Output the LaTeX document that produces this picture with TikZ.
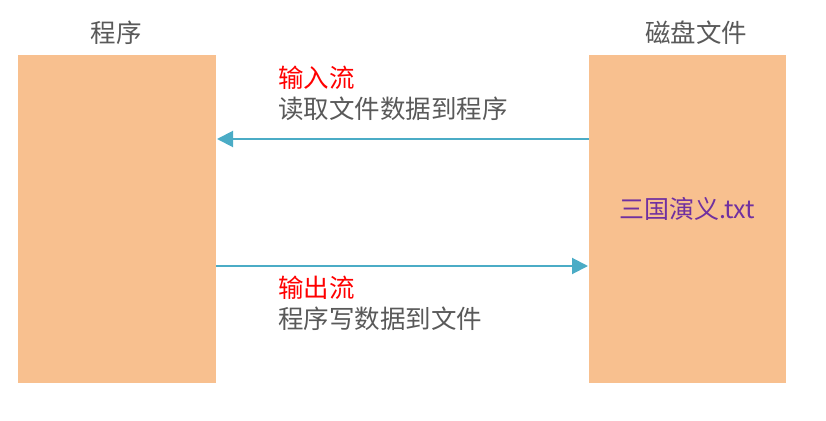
\documentclass[tikz,border=0pt]{standalone}
\usepackage{fontspec}
\setmainfont{Noto Sans CJK SC}
\usetikzlibrary{arrows.meta}
\definecolor{boxfill}{HTML}{F8C08F}
\definecolor{txtgray}{HTML}{595959}
\definecolor{arrowc}{HTML}{4BACC6}
\definecolor{purp}{HTML}{7030A0}
\begin{document}
\begin{tikzpicture}[x=1pt,y=-1pt,
  panel/.style={fill=boxfill,draw=none},
  title/.style={text=txtgray,font=\fontsize{25.5}{27}\selectfont,inner sep=0pt},
  lbl/.style={font=\fontsize{25.5}{27}\selectfont,inner sep=0pt,anchor=west},
  flow/.style={draw=arrowc,line width=2pt,-{Triangle[length=16pt,width=16pt]}}]
\useasboundingbox (0,0) rectangle (826,420);
\path[panel] (18,55) rectangle (216,383);
\path[panel] (589,55) rectangle (786,383);
\node[title] (t1) at (116,33) {程序};
\node[title] (t2) at (696,33) {磁盘文件};
\coordinate (a1s) at (589,139);
\coordinate (a1e) at (217,139);
\coordinate (a2s) at (216,266);
\coordinate (a2e) at (588,266);
\draw[flow] (a1s) -- (a1e);
\draw[flow] (a2s) -- (a2e);
\node[lbl,text=red] (in1) at (278,78) {输入流};
\node[lbl,text=txtgray] (in2) at (278,109) {读取文件数据到程序};
\node[lbl,text=red] (out1) at (278,288) {输出流};
\node[lbl,text=txtgray] (out2) at (278,319) {程序写数据到文件};
\node[font=\fontsize{25}{27}\selectfont,text=purp,inner sep=0pt] (f) at (687,209) {三国演义.txt};
\end{tikzpicture}
\end{document}
